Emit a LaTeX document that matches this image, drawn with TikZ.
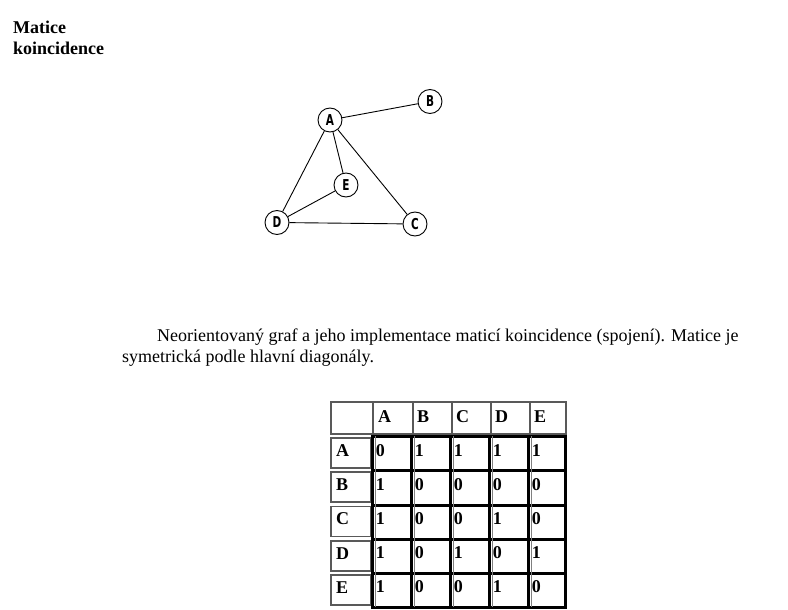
\documentclass[tikz,border=0pt]{standalone}
\usepackage{fontspec}
\setmainfont{Liberation Serif}
\newfontfamily\nodefont{DejaVu Sans}
\begin{document}
\begin{tikzpicture}[x=1pt,y=-1pt,
  vtx/.style={circle,draw,line width=0.9pt,minimum size=24pt,inner sep=0pt,font=\nodefont\fontsize{15}{15}\selectfont\bfseries},
  edge/.style={line width=0.9pt},
  txt/.style={anchor=base west,inner sep=0pt,font=\fontsize{18}{21}\selectfont},
  btxt/.style={anchor=base west,inner sep=0pt,font=\fontsize{18}{21}\selectfont\bfseries},
  hcell/.style={draw=black!65,line width=1.2pt},
  dline/.style={line width=3pt,black}
]
\useasboundingbox (0,0) rectangle (788,610);
% title
\node[btxt] (t1) at (13,34) {Matice};
\node[btxt] (t2) at (13,54.5) {koincidence};
% graph
\node[vtx] (A) at (330,120) {\scalebox{0.7}[1]{A}};
\node[vtx] (B) at (430,101.5) {\scalebox{0.7}[1]{B}};
\node[vtx] (E) at (346,185) {\scalebox{0.7}[1]{E}};
\node[vtx] (D) at (277,222.5) {\scalebox{0.7}[1]{D}};
\node[vtx] (C) at (415,224) {\scalebox{0.7}[1]{C}};
\draw[edge] (A) -- (B);
\draw[edge] (A) -- (E);
\draw[edge] (A) -- (D);
\draw[edge] (A) -- (C);
\draw[edge] (E) -- (D);
\draw[edge] (D) -- (C);
% paragraph
\node[txt] (p1) at (157,341.5) {Neorientovaný graf a jeho implementace maticí koincidence (spojení). Matice je};
\node[txt] (p2) at (122,362.5) {symetrická podle hlavní diagonály.};
% header row
\foreach \xa/\xb in {331/373,373/413,413/452,452/491,491/530,530/566}
  \draw[hcell] (\xa,402) rectangle (\xb,434);
\foreach \x/\l in {378/A,417/B,456/C,495/D,534/E}
  \node[btxt] (h\l) at (\x,422) {\l};
% row headers
\foreach \ya/\l in {438/A,472/B,506.5/C,541/D,575/E}{
  \draw[hcell] (331,\ya) rectangle (371,\ya+30);
  \node[btxt] (r\l) at (336,\ya+18) {\l};
}
% data grid
\foreach \x in {372.5,411.5,450.5,489.5,528.5,565}
  \draw[dline] (\x,434.5) -- (\x,608.5);
\foreach \y in {436,470.5,505,539,573,607}
  \draw[dline] (371,\y) -- (566.5,\y);
\foreach \x in {375,414,453,492,531}
  \draw[black!50,line width=0.6pt] (\x,436) -- (\x,607);
% data values
\foreach \r/\y/\vals in {A/456/{0,1,1,1,1},B/490/{1,0,0,0,0},C/524/{1,0,0,1,0},D/558/{1,0,1,0,1},E/592/{1,0,0,1,0}}{
  \foreach \v [count=\i] in \vals {
    \node[btxt,fill=white,inner sep=0.3pt] (d\r\i) at (375.3+39*\i-39,\y) {\v};
  }
}
\end{tikzpicture}
\end{document}
